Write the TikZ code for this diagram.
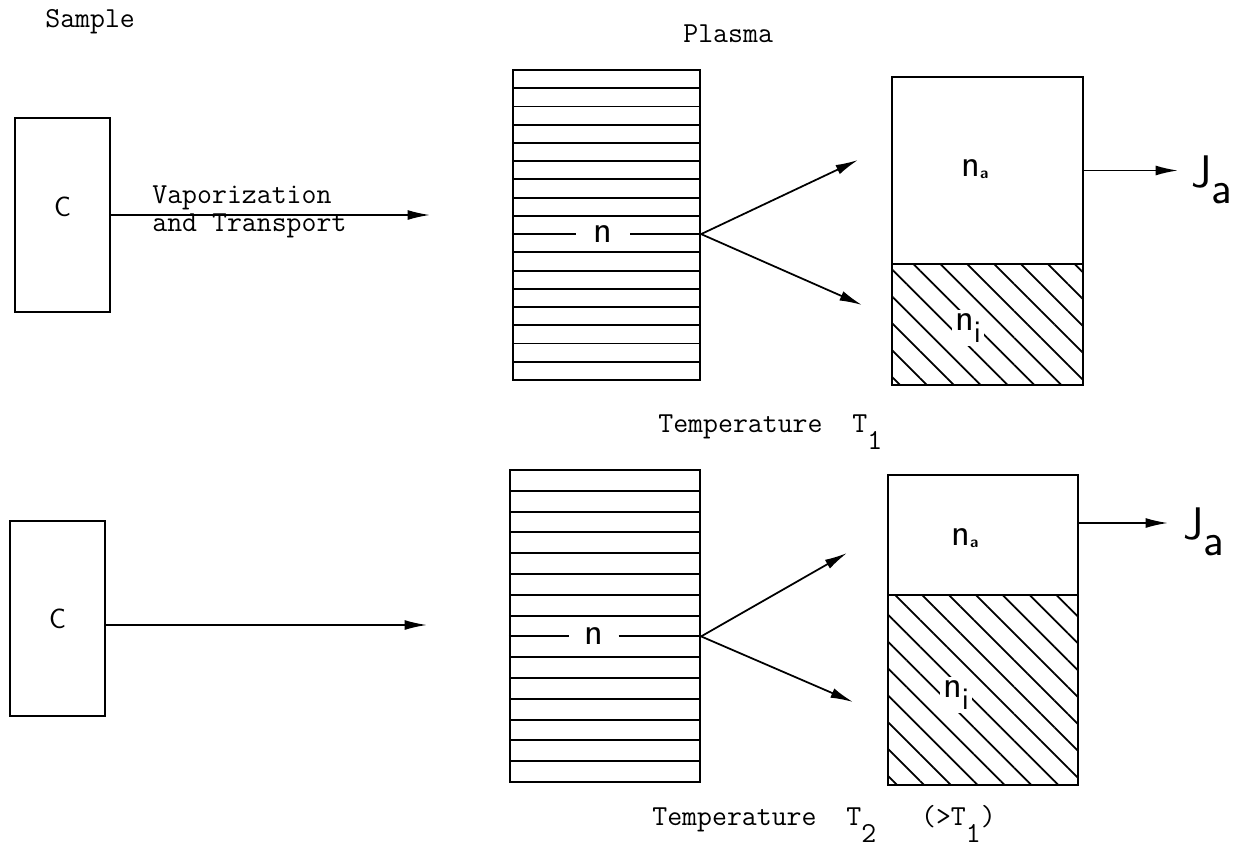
\documentclass[tikz,border=0pt]{standalone}
\usepackage{fontspec}
\usepackage{tikz}
\usetikzlibrary{arrows.meta,patterns.meta}

\tikzset{
  box/.style={draw, line width=1.3pt, inner sep=0pt},
  stroke/.style={line width=1.1pt},
  flow/.style={-{Latex[length=0.45cm,width=0.2cm]}, line width=1pt},
  typed/.style={font=\ttfamily\fontsize{16.5}{14}\selectfont, inner sep=0pt, anchor=base west},
  sym/.style={font=\sffamily\fontsize{22}{22}\selectfont, inner sep=1pt},
  hatch/.style={pattern={Lines[angle=-45,distance=0.38cm,line width=1pt]}},
}
\newcommand{\tsub}[1]{\raisebox{-0.6em}{#1}}
\newcommand{\suba}{\raisebox{-0.05em}{\fontsize{9}{9}\selectfont\bfseries a}}
\newcommand{\subi}{\raisebox{-0.3em}{\fontsize{18}{18}\selectfont i}}

\begin{document}
\begin{tikzpicture}[x=0.02cm, y=-0.02cm]
\useasboundingbox (0,0) rectangle (1251,855);

% headings
\node[typed] (sample) at (45,28) {Sample};
\node[typed] (plasma) at (683,43) {Plasma};

% upper row: temperature T1
\node[box, minimum width=1.9cm, minimum height=3.88cm] (s1) at (62.5,215) {};
\node[sym, font=\sffamily\fontsize{16}{16}\selectfont] (c1) at (62.5,207) {C};
\coordinate (a1) at (430,215);
\draw[flow] (s1.east) -- (a1);
\node[typed] (vap1) at (152,203) {Vaporization};
\node[typed] (vap2) at (152,231) {and Transport};

\node[box, minimum width=3.74cm, minimum height=6.2cm] (p1) at (606.5,225) {};
\foreach \k in {1,...,8,10,11,...,16}
  \draw[stroke] (513,{70+\k*310/17}) -- (700,{70+\k*310/17});
\node[sym, inner xsep=0.35cm] (n1) at (603,234.1) {n};
\draw[stroke] (p1.west |- n1) -- (n1.west);
\draw[stroke] (n1.east) -- (p1.east |- n1);

\coordinate (t1u) at (858,160);
\coordinate (t1d) at (862,305);
\draw[flow] (p1.east |- n1) -- (t1u);
\draw[flow] (p1.east |- n1) -- (t1d);

\node[box, minimum width=3.82cm, minimum height=3.74cm] (r1a) at (987.5,170.5) {};
\node[box, hatch, minimum width=3.82cm, minimum height=2.42cm] (r1i) at (987.5,324.5) {};
\node[sym] (na1) at (975,169) {n\suba};
\node[sym, fill=white, inner sep=2pt] (ni1) at (968,328) {n\subi};

\coordinate (j1) at (1178,170.5);
\draw[flow] (r1a.east) -- (j1);
\node[sym, font=\sffamily\fontsize{26}{26}\selectfont] (ja1) at (1212,180) {J\raisebox{-0.35em}{a}};

\node[typed] (temp1) at (658,432) {Temperature~~T\tsub{1}};

% lower row: temperature T2
\node[box, minimum width=1.9cm, minimum height=3.9cm] (s2) at (57.5,618.5) {};
\node[sym, font=\sffamily\fontsize{16}{16}\selectfont] (c2) at (s2) {C};
\coordinate (a2) at (427,625);
\draw[flow] (s2.east |- a2) -- (a2);

\node[box, minimum width=3.8cm, minimum height=6.24cm] (p2) at (605,626) {};
\foreach \k in {1,...,7,9,10,...,14}
  \draw[stroke] (510,{470+\k*312/15}) -- (700,{470+\k*312/15});
\node[sym, inner xsep=0.3cm] (n2) at (594,636.4) {n};
\draw[stroke] (p2.west |- n2) -- (n2.west);
\draw[stroke] (n2.east) -- (p2.east |- n2);

\coordinate (t2u) at (847,553);
\coordinate (t2d) at (853,702);
\draw[flow] (p2.east |- n2) -- (t2u);
\draw[flow] (p2.east |- n2) -- (t2d);

\node[box, minimum width=3.8cm, minimum height=2.4cm] (r2a) at (983,535) {};
\node[box, hatch, minimum width=3.8cm, minimum height=3.8cm] (r2i) at (983,690) {};
\node[sym] (na2) at (965,538) {n\suba};
\node[sym, fill=white, inner sep=2pt] (ni2) at (956,695) {n\subi};

\coordinate (j2) at (1168,523);
\draw[flow] (r2a.east |- j2) -- (j2);
\node[sym, font=\sffamily\fontsize{26}{26}\selectfont] (ja2) at (1204,532) {J\raisebox{-0.35em}{a}};

\node[typed] (temp2) at (652,825) {Temperature~~T\tsub{2}~~~(>T\tsub{1})};
\end{tikzpicture}
\end{document}
